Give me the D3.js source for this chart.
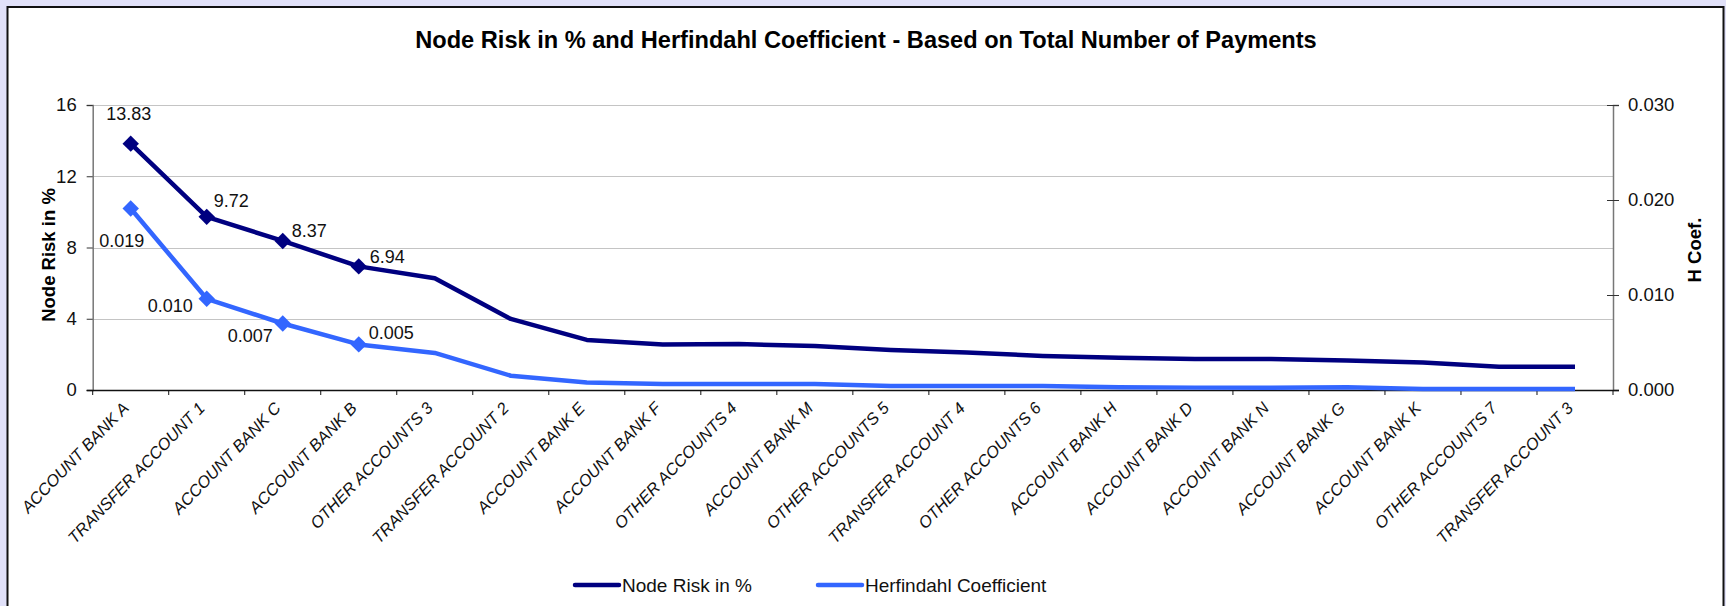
<!DOCTYPE html>
<html>
<head>
<meta charset="utf-8">
<script src="https://cdn.jsdelivr.net/npm/d3@7/dist/d3.min.js"></script>
<style>
  html, body { margin: 0; padding: 0; background: #e1e1f9; }
  svg { display: block; font-family: Arial, "Liberation Sans", sans-serif; }
</style>
</head>
<body>
<div id="chart"></div>
<script>
const categories = [
  "ACCOUNT BANK A", "TRANSFER ACCOUNT 1", "ACCOUNT BANK C", "ACCOUNT BANK B",
  "OTHER ACCOUNTS 3", "TRANSFER ACCOUNT 2", "ACCOUNT BANK E", "ACCOUNT BANK F",
  "OTHER ACCOUNTS 4", "ACCOUNT BANK M", "OTHER ACCOUNTS 5", "TRANSFER ACCOUNT 4",
  "OTHER ACCOUNTS 6", "ACCOUNT BANK H", "ACCOUNT BANK D", "ACCOUNT BANK N",
  "ACCOUNT BANK G", "ACCOUNT BANK K", "OTHER ACCOUNTS 7", "TRANSFER ACCOUNT 3"
];
const nodeRisk = [13.83, 9.72, 8.37, 6.94, 6.27, 3.99, 2.81, 2.56, 2.58, 2.47,
  2.25, 2.10, 1.91, 1.81, 1.74, 1.74, 1.65, 1.55, 1.31, 1.31];
const hCoef = [0.0191, 0.0096, 0.0070, 0.0048, 0.0039, 0.0015, 0.0008, 0.00063, 0.00063, 0.00063,
  0.00042, 0.00042, 0.00042, 0.00028, 0.00025, 0.00025, 0.00028, 0.0001, 0.0001, 0.0001];
const leftTicks = [0, 4, 8, 12, 16];
const rightTicks = [0, 0.01, 0.02, 0.03];
const labelledPoints = 4;

// label placement (dx, dy, anchor) for the first points of each series
const riskLabelPos = [[-2, -24, "middle"], [7, -10, "start"], [9, -4, "start"], [11, -3, "start"]];
const coefLabelPos = [[-9, 38, "middle"], [-14, 13, "end"], [-10, 18, "end"], [10, -5, "start"]];

const width = 1726, height = 606;
const dark = "#000080", light = "#3366ff";

const svg = d3.select("#chart").append("svg")
  .attr("width", width)
  .attr("height", height);

svg.append("rect")
  .attr("x", 7.5).attr("y", 7)
  .attr("width", 1716).attr("height", 640)
  .attr("fill", "#fff")
  .attr("stroke", "#111")
  .attr("stroke-width", 2);

const x = d3.scaleBand().domain(categories).range([92.7, 1613]);
const y = d3.scaleLinear().domain([0, 16]).range([390, 105]);
const y2 = d3.scaleLinear().domain([0, 0.03]).range([390, 105]);
const cx = (d) => x(d) + x.bandwidth() / 2;

svg.append("text")
  .attr("x", 866).attr("y", 48)
  .attr("text-anchor", "middle")
  .attr("font-weight", "bold")
  .attr("font-size", 23.6)
  .text("Node Risk in % and Herfindahl Coefficient - Based on Total Number of Payments");

// grid
svg.append("g")
  .selectAll("line")
  .data(leftTicks.filter(d => d > 0))
  .join("line")
  .attr("x1", 92.7).attr("x2", 1613)
  .attr("y1", d => Math.round(y(d)) + 0.5).attr("y2", d => Math.round(y(d)) + 0.5)
  .attr("stroke", "#c4c4c4");

// left axis
const gl = svg.append("g")
  .attr("transform", "translate(92.7,0)")
  .call(d3.axisLeft(y).tickValues(leftTicks).tickSizeOuter(0).tickSize(6).tickPadding(10));
gl.select(".domain").attr("stroke", "#777").attr("stroke-width", 1.5);
gl.selectAll(".tick line").attr("stroke", "#333");
gl.selectAll(".tick text").attr("font-size", 18.5).attr("fill", "#111").attr("font-family", "Arial, 'Liberation Sans', sans-serif");

// right axis
const gr = svg.append("g")
  .attr("transform", "translate(1613,0)")
  .call(d3.axisRight(y2).tickValues(rightTicks).tickFormat(d3.format(".3f")).tickSizeOuter(0).tickSize(6).tickPadding(9));
gr.select(".domain").attr("stroke", "#777").attr("stroke-width", 1.5);
gr.selectAll(".tick line").attr("x1", -6).attr("stroke", "#333");
gr.selectAll(".tick text").attr("font-size", 18.5).attr("fill", "#111").attr("font-family", "Arial, 'Liberation Sans', sans-serif");

// bottom axis
svg.append("line")
  .attr("x1", 86.7).attr("x2", 1619)
  .attr("y1", 390.5).attr("y2", 390.5)
  .attr("stroke", "#111").attr("stroke-width", 1.5);
svg.append("g")
  .selectAll("line")
  .data(d3.range(categories.length + 1))
  .join("line")
  .attr("x1", i => x.range()[0] + i * x.step())
  .attr("x2", i => x.range()[0] + i * x.step())
  .attr("y1", 390).attr("y2", 395)
  .attr("stroke", "#111");

svg.append("g")
  .selectAll("text")
  .data(categories)
  .join("text")
  .attr("transform", d => `translate(${cx(d) - 5},${405}) rotate(-46)`)
  .attr("text-anchor", "end")
  .attr("dy", "0.35em")
  .attr("font-size", 16.5)
  .attr("font-style", "italic")
  .attr("fill", "#111")
  .text(d => d);

// axis titles
svg.append("text")
  .attr("transform", "translate(55,255) rotate(-90)")
  .attr("text-anchor", "middle")
  .attr("font-weight", "bold")
  .attr("font-size", 18.5)
  .text("Node Risk in %");
svg.append("text")
  .attr("transform", "translate(1701,250) rotate(-90)")
  .attr("text-anchor", "middle")
  .attr("font-weight", "bold")
  .attr("font-size", 18.5)
  .text("H Coef.");

// lines
const riskLine = d3.line().x((d, i) => cx(categories[i])).y(d => y(d));
const coefLine = d3.line().x((d, i) => cx(categories[i])).y(d => y2(d));

svg.append("path")
  .datum(hCoef)
  .attr("d", coefLine)
  .attr("fill", "none")
  .attr("stroke", light)
  .attr("stroke-width", 4.5)
  .attr("stroke-linejoin", "round");
svg.append("path")
  .datum(nodeRisk)
  .attr("d", riskLine)
  .attr("fill", "none")
  .attr("stroke", dark)
  .attr("stroke-width", 4.5)
  .attr("stroke-linejoin", "round");

const diamond = d3.symbol().type(d3.symbolSquare).size(135);

svg.append("g")
  .selectAll("path")
  .data(hCoef.slice(0, labelledPoints))
  .join("path")
  .attr("d", diamond)
  .attr("transform", (d, i) => `translate(${cx(categories[i])},${y2(d)}) rotate(45)`)
  .attr("fill", light);
svg.append("g")
  .selectAll("path")
  .data(nodeRisk.slice(0, labelledPoints))
  .join("path")
  .attr("d", diamond)
  .attr("transform", (d, i) => `translate(${cx(categories[i])},${y(d)}) rotate(45)`)
  .attr("fill", dark);

// data labels
svg.append("g")
  .selectAll("text")
  .data(nodeRisk.slice(0, labelledPoints))
  .join("text")
  .attr("x", (d, i) => cx(categories[i]) + riskLabelPos[i][0])
  .attr("y", (d, i) => y(d) + riskLabelPos[i][1])
  .attr("text-anchor", (d, i) => riskLabelPos[i][2])
  .attr("font-size", 18)
  .attr("fill", "#111")
  .text(d => d3.format(".2f")(d));
svg.append("g")
  .selectAll("text")
  .data(hCoef.slice(0, labelledPoints))
  .join("text")
  .attr("x", (d, i) => cx(categories[i]) + coefLabelPos[i][0])
  .attr("y", (d, i) => y2(d) + coefLabelPos[i][1])
  .attr("text-anchor", (d, i) => coefLabelPos[i][2])
  .attr("font-size", 18)
  .attr("fill", "#111")
  .text(d => d3.format(".3f")(d));

// legend
const legend = [["Node Risk in %", dark, 575], ["Herfindahl Coefficient", light, 818]];
const lg = svg.append("g")
  .selectAll("g")
  .data(legend)
  .join("g")
  .attr("transform", d => `translate(${d[2]},585)`);
lg.append("line")
  .attr("x1", 0).attr("x2", 44)
  .attr("stroke", d => d[1])
  .attr("stroke-width", 4.5)
  .attr("stroke-linecap", "round");
lg.append("text")
  .attr("x", 47).attr("y", 7)
  .attr("font-size", 19)
  .attr("fill", "#111")
  .text(d => d[0]);
</script>
</body>
</html>
